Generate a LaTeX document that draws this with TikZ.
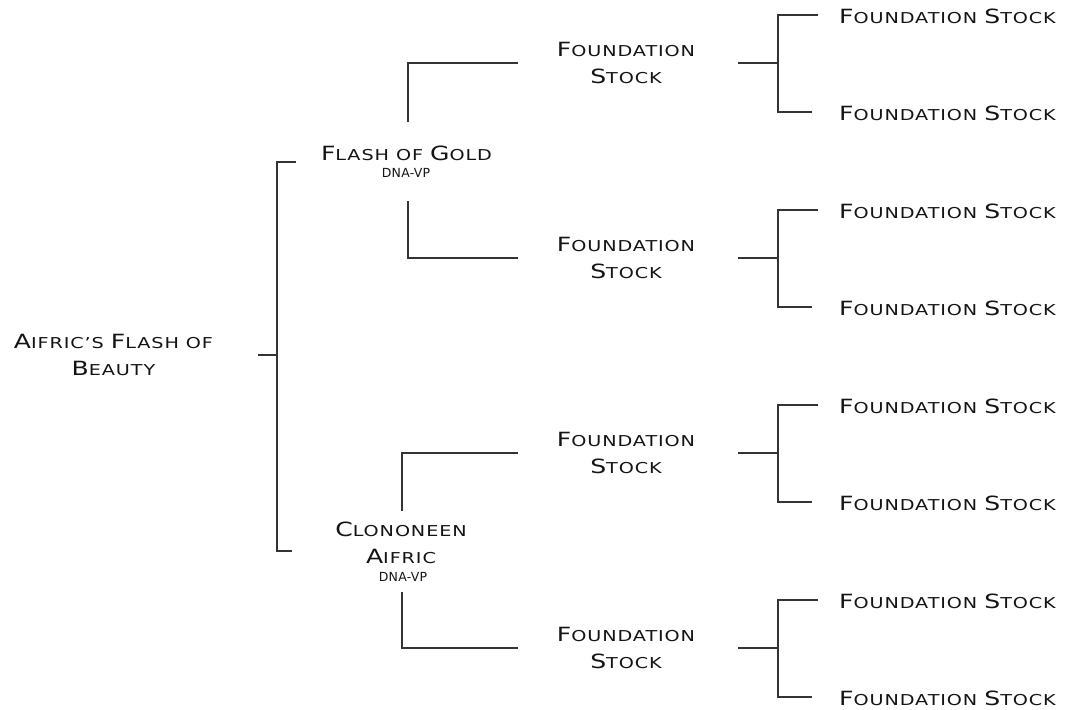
\documentclass[tikz,border=0pt]{standalone}
\usepackage{fontspec}
\newfontfamily\cpf[FakeStretch=1.28,LetterSpace=6]{DejaVu Sans}
\newfontfamily\dnaf[LetterSpace=2]{DejaVu Sans}
\newcommand\cpB[1]{{\fontsize{19.6}{27}\selectfont #1}}
\newcommand\cpS[1]{{\fontsize{15}{27}\selectfont #1}}
\newcommand\cpw[2]{\cpB{#1}\cpS{#2}}
\newcommand\fstock{\cpw{F}{OUNDATION} \cpw{S}{TOCK}}
\definecolor{linec}{HTML}{333333}
\definecolor{textc}{HTML}{141414}
\tikzset{
  namebox/.style={font=\cpf\fontsize{15}{27}\selectfont, align=center, inner sep=0pt, text=textc},
  leafbox/.style={namebox, anchor=west},
  dnabox/.style={font=\dnaf\fontsize{12.5}{14}\selectfont, inner sep=0pt, text=textc},
  bracket/.style={draw=linec, line width=1.1pt}
}
\begin{document}
\begin{tikzpicture}[x=1pt,y=-1pt]
\useasboundingbox (0,0) rectangle (1067,709);
% root
\node[namebox] (root) at (113.5,355) {\cpw{A}{IFRIC’S} \cpw{F}{LASH} \cpS{OF}\\\cpw{B}{EAUTY}};
% parents
\node[namebox] (fog) at (406.5,153) {\cpw{F}{LASH} \cpS{OF} \cpw{G}{OLD}};
\node[dnabox] (fogdna) at (406,173) {DNA-VP};
\node[namebox] (cla) at (401,542.5) {\cpw{C}{LONONEEN}\\\cpw{A}{IFRIC}};
\node[dnabox] (cladna) at (403,577) {DNA-VP};
% grandparents
\foreach \i/\y in {1/63,2/258,3/453,4/648}{
  \node[namebox] (g\i) at (626,\y) {\cpw{F}{OUNDATION}\\\cpw{S}{TOCK}};
  \node[leafbox] (l\i a) at (839,\y-47) {\fstock};
  \node[leafbox] (l\i b) at (839,\y+50) {\fstock};
  \coordinate (g\i out) at (738,\y);
  \coordinate (g\i mid) at (778,\y);
  \coordinate (g\i top) at (778,\y-48);
  \coordinate (g\i bot) at (778,\y+49);
  \coordinate (l\i ain) at (818,\y-48);
  \coordinate (l\i bin) at (812,\y+49);
  \draw[bracket] (g\i out) -- (g\i mid);
  \draw[bracket] (l\i ain) -- (g\i top) -- (g\i bot) -- (l\i bin);
}
% root bracket
\coordinate (rootout) at (258,355);
\coordinate (rootmid) at (277,355);
\coordinate (roottop) at (277,162);
\coordinate (rootbot) at (277,551);
\coordinate (fogin) at (296,162);
\coordinate (clain) at (292,551);
\draw[bracket] (rootout) -- (rootmid);
\draw[bracket] (fogin) -- (roottop) -- (rootbot) -- (clain);
% flash of gold brackets
\coordinate (fogup) at (408,122);
\coordinate (fogdown) at (408,201);
\coordinate (g1in) at (518,63);
\coordinate (g2in) at (518,258);
\draw[bracket] (fogup) -- (fogup |- g1in) -- (g1in);
\draw[bracket] (fogdown) -- (fogdown |- g2in) -- (g2in);
% clononeen brackets
\coordinate (claup) at (402,511);
\coordinate (cladown) at (402,592);
\coordinate (g3in) at (518,453);
\coordinate (g4in) at (518,648);
\draw[bracket] (claup) -- (claup |- g3in) -- (g3in);
\draw[bracket] (cladown) -- (cladown |- g4in) -- (g4in);
\end{tikzpicture}
\end{document}
